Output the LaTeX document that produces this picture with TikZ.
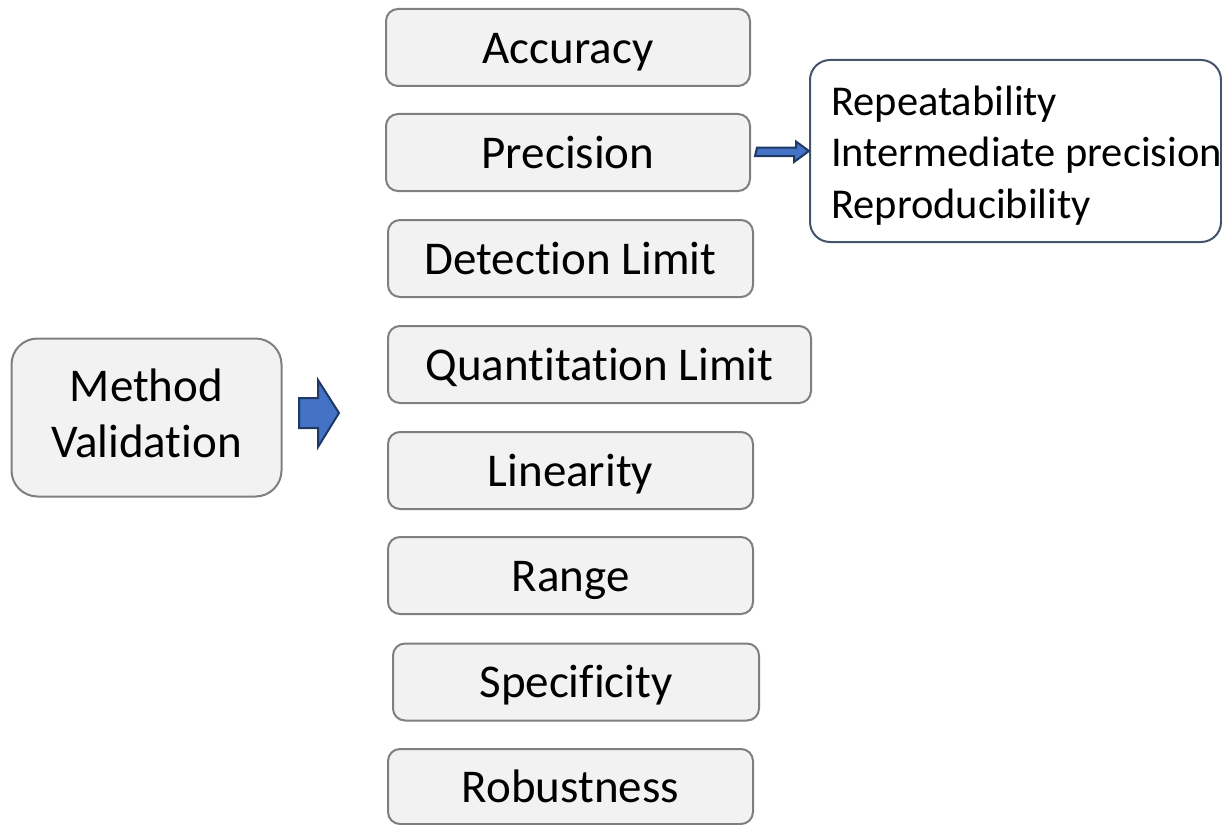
\documentclass[tikz,border=0pt]{standalone}
\usepackage{fontspec}
\setmainfont{Carlito}[Ligatures={NoCommon,NoContextual,NoRequired},Contextuals=NoAlternate]
\definecolor{boxfill}{HTML}{F2F2F2}
\definecolor{boxline}{HTML}{7F7F7F}
\definecolor{repline}{HTML}{44546A}
\definecolor{arrfill}{HTML}{4472C4}
\definecolor{arrline}{HTML}{1F3864}
\begin{document}
\begin{tikzpicture}[x=1pt,y=-1pt,
  item/.style={draw=boxline, fill=boxfill, line width=2pt, rounded corners=12pt,
    inner sep=0pt, font=\fontsize{47}{56}\selectfont, text=black,
    text height=31.5pt, text depth=0pt},
  mvbox/.style={draw=boxline, fill=boxfill, line width=2pt, rounded corners=26pt,
    inner sep=0pt, font=\fontsize{47}{56}\selectfont, text=black,
    text height=30pt, text depth=63pt},
  repbox/.style={draw=repline, fill=white, line width=2pt, rounded corners=20pt, inner sep=0pt},
  blockarrow/.style={fill=arrfill, draw=arrline, line width=2pt, line join=miter}]
\useasboundingbox (0,0) rectangle (1222,824);

\node[mvbox, minimum width=270, minimum height=158] (mv) at (146.5,417.5)
  {\begin{tabular}[t]{@{}c@{}}Method\\Validation\end{tabular}};

\node[item, minimum width=364, minimum height=77] (acc) at (568,47.5) {Accuracy};
\node[item, minimum width=364, minimum height=77] (prec) at (568,152.5) {Precision};
\node[item, minimum width=365, minimum height=77] (det) at (570.5,258.5) {Detection Limit};
\node[item, minimum width=423, minimum height=77] (quant) at (599.5,364.5) {Quantitation Limit};
\node[item, minimum width=365, minimum height=77] (lin) at (570.5,470.5) {Linearity};
\node[item, minimum width=365, minimum height=77] (rng) at (570.5,575.5) {Range};
\node[item, minimum width=366, minimum height=77] (spec) at (576,682) {Specificity};
\node[item, minimum width=365, minimum height=75] (rob) at (570.5,786.5) {Robustness};

\node[repbox, minimum width=411, minimum height=182] (rep) at (1015.5,151) {};
\node[anchor=base west, inner sep=0pt, font=\fontsize{42.5}{51}\selectfont]
  (reptext) at (rep.west |- 0,116) {\hspace*{22pt}\begin{tabular}[t]{@{}l@{}}Repeatability\\Intermediate precision\\Reproducibility\end{tabular}};

% big block arrow
\coordinate (ba) at (299,413);
\draw[blockarrow] (ba) ++(0,-15) -- ++(19,0) -- ++(0,-18) -- ++(21,33) -- ++(-21,34) -- ++(0,-19) -- ++(-19,0) -- cycle;

% small block arrow from Precision to the list
\coordinate (sa) at ([xshift=6pt]prec.east);
\draw[blockarrow] (sa) ++(0,-5) -- ++(39,0) -- ++(0,-6) -- (rep.west) -- ++(-15,11) -- ++(0,-6) -- ++(-39,0) -- cycle;
\end{tikzpicture}
\end{document}
